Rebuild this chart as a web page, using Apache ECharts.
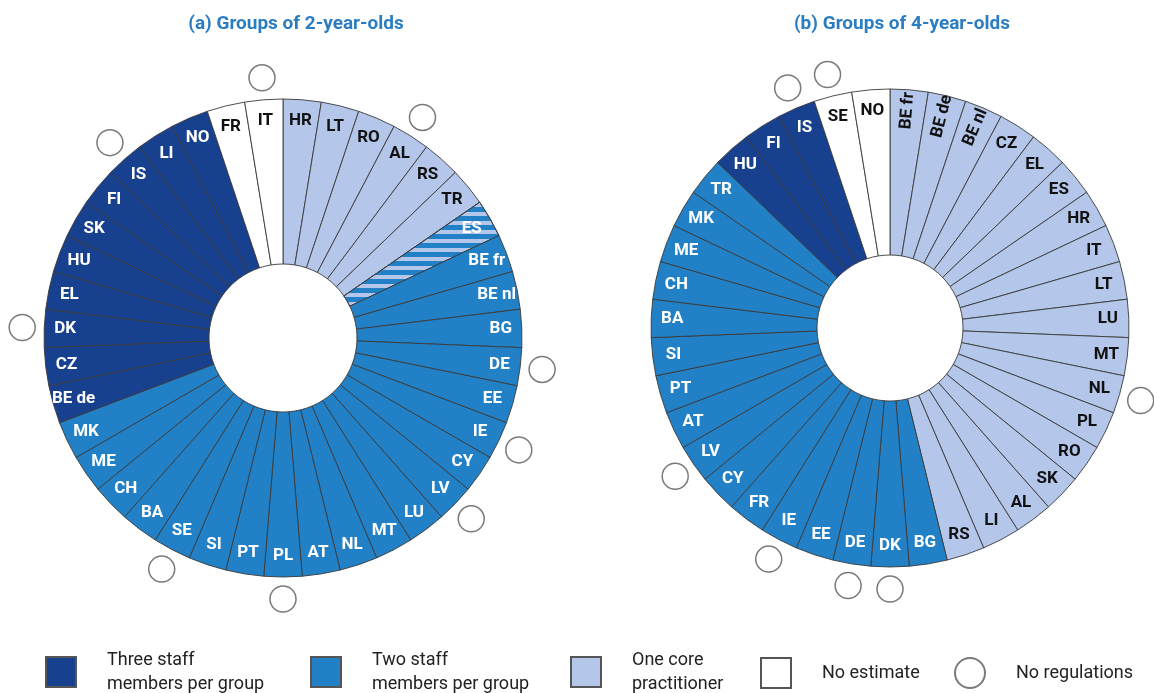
<!DOCTYPE html>
<html><head><meta charset="utf-8">
<script src="https://cdn.jsdelivr.net/npm/echarts@6/dist/echarts.min.js"></script>
<style>html,body{margin:0;padding:0;background:#fff}#c{width:1154px;height:693px}</style>
</head><body><div id="c"></div>
<script>
// ---- data ----
const titleA = '(a) Groups of 2-year-olds';
const titleB = '(b) Groups of 4-year-olds';
const countriesA = ['HR','LT','RO','AL','RS','TR','ES','BE fr','BE nl','BG','DE','EE','IE','CY','LV','LU','MT','NL','AT','PL','PT','SI','SE','BA','CH','ME','MK','BE de','CZ','DK','EL','HU','SK','FI','IS','LI','NO','FR','IT'];
const staffA = ['one','one','one','one','one','one','one+two',
  'two','two','two','two','two','two','two','two','two','two','two','two','two','two','two','two','two','two','two','two',
  'three','three','three','three','three','three','three','three','three','three',
  'none','none'];
const noRegA = ['IT','AL','IS','DK','DE','IE','LV','SE','PL'];

const countriesB = ['BE fr','BE de','BE nl','CZ','EL','ES','HR','IT','LT','LU','MT','NL','PL','RO','SK','AL','LI','RS','BG','DK','DE','EE','IE','FR','CY','LV','AT','PT','SI','BA','CH','ME','MK','TR','HU','FI','IS','SE','NO'];
const staffB = ['one','one','one','one','one','one','one','one','one','one','one','one','one','one','one','one','one','one',
  'two','two','two','two','two','two','two','two','two','two','two','two','two','two','two','two',
  'three','three','three',
  'none','none'];
const noRegB = ['IS','SE','NL','LV','IE','DE','DK'];
const rotatedLabelsB = ['BE fr','BE de','BE nl'];

const legendNames = ['Three staff\nmembers per group','Two staff\nmembers per group','One core\npractitioner','No estimate','No regulations'];

// ---- styles ----
const COL = {three:'#17408F', two:'#2281C6', one:'#B4C7EA', none:'#FFFFFF'};
const FONT = 'Roboto';
const geomA = {center:[283,338], r0:74, r1:239};
const geomB = {center:[890,328], r0:73, r1:239};
const RING_R = 261;

function sliceData(countries, staff){
  return countries.map((c,i)=>{
    const s = staff[i];
    const item = {name:c, value:1, itemStyle:{color: s==='one+two' ? COL.one : COL[s]}};
    if (s==='one+two') {
      item.itemStyle.decal = {symbol:'rect', symbolSize:1, color:COL.two, dashArrayX:[1,0], dashArrayY:[5,4], rotation:0};
    }
    return item;
  });
}
function labelData(countries, staff, rotated){
  const n = countries.length;
  return countries.map((c,i)=>{
    const s = staff[i];
    const white = (s==='two' || s==='three' || s==='one+two');
    const lab = {color: white ? '#ffffff' : '#111111'};
    if (rotated && rotated.indexOf(c)>=0) lab.rotate = 90 - (i+0.5)*360/n;
    return {name:c, value:1, label:lab};
  });
}
function donut(g, countries, staff, rotated){
  return [
    {type:'pie', center:g.center, radius:[g.r0,g.r1], startAngle:90, clockwise:true, silent:true,
     label:{show:false}, labelLine:{show:false},
     itemStyle:{borderColor:'#3a3a3a', borderWidth:0.9},
     data: sliceData(countries, staff)},
    {type:'pie', center:g.center, radius:[g.r1-47,g.r1-1], startAngle:90, clockwise:true, silent:true,
     label:{show:true, position:'inside', fontFamily:FONT, fontWeight:'bold', fontSize:17},
     labelLine:{show:false},
     itemStyle:{color:'rgba(0,0,0,0)', borderWidth:0},
     data: labelData(countries, staff, rotated)}
  ];
}
function rings(idx, countries, noReg){
  return {type:'scatter', coordinateSystem:'polar', polarIndex:idx, symbol:'circle', symbolSize:26, silent:true,
    itemStyle:{color:'#ffffff', borderColor:'#7a7a7a', borderWidth:1.5, opacity:1},
    data: noReg.map(c=>[RING_R, countries.indexOf(c)])};
}
const legendColors = [COL.three, COL.two, COL.one, COL.none, '#ffffff'];
const legendSeries = legendNames.map((nm,i)=>({
  type:'scatter', coordinateSystem:'polar', polarIndex:0, name:nm, data:[],
  itemStyle:{color:legendColors[i], opacity:1, borderColor: i===4 ? '#7a7a7a' : '#555', borderWidth: i===4 ? 1.5 : 1}
}));
const legendLeft = [45, 310, 570, 760, 954];
const legendTop = [648, 648, 648, 657, 657];

const chart = echarts.init(document.getElementById('c'), null, {renderer:'canvas'});
const axisOff = {show:false};
chart.setOption({
  animation:false,
  backgroundColor:'#ffffff',
  title:[
    {text:titleA, left:291, top:10, textAlign:'center', textStyle:{fontFamily:FONT, fontWeight:'bold', fontSize:19, color:'#2B7DC1'}},
    {text:titleB, left:897, top:10, textAlign:'center', textStyle:{fontFamily:FONT, fontWeight:'bold', fontSize:19, color:'#2B7DC1'}}
  ],
  polar:[{center:geomA.center, radius:300},{center:geomB.center, radius:300}],
  angleAxis:[
    Object.assign({polarIndex:0, type:'category', data:countriesA, startAngle:90, clockwise:true}, axisOff),
    Object.assign({polarIndex:1, type:'category', data:countriesB, startAngle:90, clockwise:true}, axisOff)
  ],
  radiusAxis:[
    Object.assign({polarIndex:0, type:'value', min:0, max:300}, axisOff),
    Object.assign({polarIndex:1, type:'value', min:0, max:300}, axisOff)
  ],
  legend: legendNames.map((nm,i)=>({
    data:[nm], left:legendLeft[i], top:legendTop[i], itemWidth:30, itemHeight:30,
    icon: i===4 ? 'circle' : 'rect', selectedMode:false, padding:0,
    textStyle:{fontFamily:FONT, fontSize:18, color:'#222', lineHeight:24, padding:[0,0,0,26]}
  })),
  series: [].concat(
    donut(geomA, countriesA, staffA, null),
    donut(geomB, countriesB, staffB, rotatedLabelsB),
    [rings(0, countriesA, noRegA), rings(1, countriesB, noRegB)],
    legendSeries
  )
});
</script>
</body></html>
